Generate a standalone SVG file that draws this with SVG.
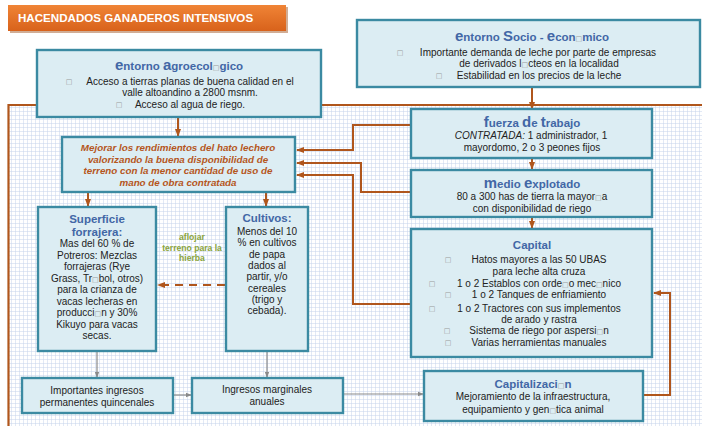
<svg xmlns="http://www.w3.org/2000/svg" width="702" height="426" viewBox="0 0 702 426">
  <defs>
    <pattern id="grid" width="4" height="4" patternUnits="userSpaceOnUse">
      <rect width="4" height="4" fill="#ffffff"/>
      <path d="M4 0 V4 M0 4 H4" stroke="#c6d4ec" stroke-width="1" fill="none"/>
    </pattern>
    <linearGradient id="hdr" x1="0" y1="0" x2="0" y2="1">
      <stop offset="0" stop-color="#f08436"/>
      <stop offset="1" stop-color="#d8621b"/>
    </linearGradient>
    <marker id="ab" viewBox="0 0 8 8" refX="7" refY="4" markerWidth="8" markerHeight="8" markerUnits="userSpaceOnUse" orient="auto">
      <path d="M0 1 L8 4 L0 7 Z" fill="#b0561c"/>
    </marker>
    <marker id="ag" viewBox="0 0 8 8" refX="7" refY="4" markerWidth="6" markerHeight="6" markerUnits="userSpaceOnUse" orient="auto">
      <path d="M0 1 L8 4 L0 7 Z" fill="#8a8a8a"/>
    </marker>
    <style>
      .box { fill: #dcedf3; stroke: #3b8aa2; stroke-width: 2.4; }
      .t { font-family: "Liberation Sans", Arial, sans-serif; font-size: 10px; fill: #222; text-anchor: middle; }
      .b { font-family: "DejaVu Sans", sans-serif; font-size: 7px; fill: #9a9a9a; text-anchor: middle; }
      .m { font-family: "DejaVu Sans", sans-serif; font-size: 7px; fill: #9a9a9a; }
      .ttl { font-family: "Liberation Sans", Arial, sans-serif; font-weight: bold; font-size: 11.5px; fill: #4267a6; text-anchor: middle; }
      .big { font-size: 15px; }
      .goal { font-family: "Liberation Sans", Arial, sans-serif; font-weight: bold; font-style: italic; font-size: 9.8px; fill: #b5561c; text-anchor: middle; }
      .note { font-family: "Liberation Sans", Arial, sans-serif; font-weight: bold; font-size: 8.6px; fill: #8aa43c; text-anchor: middle; }
      .c { fill: none; stroke: #b0561c; stroke-width: 2; }
      .g { fill: none; stroke: #8a8a8a; stroke-width: 1.2; }
    </style>
  </defs>

  <rect width="702" height="426" fill="#ffffff"/>

  <!-- graph-paper field with its brown frame -->
  <rect x="9" y="106" width="693" height="320" fill="url(#grid)"/>
  <path d="M8.5 426 V105 H702" fill="none" stroke="#b0561c" stroke-width="2.2"/>

  <!-- banner -->
  <g id="header">
    <rect x="10" y="7" width="278" height="26" fill="#9a4a14" opacity="0.45"/>
    <rect x="8" y="5" width="278" height="26" fill="url(#hdr)"/>
    <text x="18" y="22" font-family="Liberation Sans, Arial, sans-serif" font-weight="bold" font-size="11.6" fill="#ffffff">HACENDADOS GANADEROS INTENSIVOS</text>
  </g>

  <g id="connectors">
    <line class="c" x1="532" y1="87" x2="532" y2="109" marker-end="url(#ab)"/>
    <line class="c" x1="178" y1="118" x2="178" y2="136" marker-end="url(#ab)"/>
    <line class="c" x1="532" y1="158" x2="532" y2="169" marker-end="url(#ab)"/>
    <line class="c" x1="532" y1="217" x2="532" y2="228" marker-end="url(#ab)"/>
    <path class="c" d="M411 125 H353 V150 H297" marker-end="url(#ab)"/>
    <path class="c" d="M411 192 H361 V163 H297" marker-end="url(#ab)"/>
    <path class="c" d="M411 304 H353 V175 H297" marker-end="url(#ab)"/>
    <line class="c" x1="88" y1="192" x2="88" y2="206" marker-end="url(#ab)"/>
    <line class="c" x1="266" y1="192" x2="266" y2="206" marker-end="url(#ab)"/>
    <line class="c" x1="225" y1="285" x2="158" y2="285" stroke-width="2.6" stroke-dasharray="8 6" marker-end="url(#ab)"/>
    <path class="c" d="M643 395 H670 V293 H654" marker-end="url(#ab)"/>
    <line class="g" x1="97" y1="352" x2="97" y2="377" marker-end="url(#ag)"/>
    <line class="g" x1="267" y1="352" x2="267" y2="377" marker-end="url(#ag)"/>
    <line class="g" x1="174" y1="395" x2="191" y2="395" marker-end="url(#ag)"/>
    <line class="g" x1="344" y1="394" x2="423" y2="394" marker-end="url(#ag)"/>
  </g>

  <g id="entorno-agroecologico">
    <rect class="box" x="37" y="50" width="284" height="67"/>
    <text class="ttl" x="179" y="70"><tspan class="big">e</tspan>ntorno <tspan class="big">a</tspan>groecol<tspan class="m">□</tspan>gico</text>
    <text class="b" x="69" y="84">□</text>
    <text class="t" x="190" y="85">Acceso a tierras planas de buena calidad en el</text>
    <text class="t" x="190" y="96">valle altoandino a 2800 msnm.</text>
    <text class="b" x="119" y="107">□</text>
    <text class="t" x="190" y="108">Acceso al agua de riego.</text>
  </g>

  <g id="entorno-socio-economico">
    <rect class="box" x="357" y="20" width="343" height="67"/>
    <text class="ttl" x="532" y="41"><tspan class="big">e</tspan>ntorno <tspan class="big">S</tspan>ocio - <tspan class="big">e</tspan>con<tspan class="m">□</tspan>mico</text>
    <text class="b" x="400" y="55">□</text>
    <text class="t" x="538" y="56">Importante demanda de leche por parte de empresas</text>
    <text class="t" x="539" y="67">de derivados l<tspan class="m">□</tspan>cteos en la localidad</text>
    <text class="b" x="439" y="78">□</text>
    <text class="t" x="539" y="79">Estabilidad en los precios de la leche</text>
  </g>

  <g id="fuerza-de-trabajo">
    <rect class="box" x="411" y="109" width="241" height="49"/>
    <text class="ttl" x="532" y="127"><tspan class="big">f</tspan>uerza <tspan class="big">d</tspan>e <tspan class="big">t</tspan>rabajo</text>
    <text class="t" x="531" y="139"><tspan font-style="italic">CONTRATADA:</tspan> 1 administrador, 1</text>
    <text class="t" x="532" y="151">mayordomo, 2 o 3 peones fijos</text>
  </g>

  <g id="medio-explotado">
    <rect class="box" x="411" y="170" width="241" height="47"/>
    <text class="ttl" x="532" y="188"><tspan class="big">m</tspan>edio <tspan class="big">e</tspan>xplotado</text>
    <text class="t" x="532" y="200">80 a 300 has de tierra la mayor<tspan class="m">□</tspan>a</text>
    <text class="t" x="532" y="212">con disponibilidad de riego</text>
  </g>

  <g id="capital">
    <rect class="box" x="411" y="229" width="241" height="128"/>
    <text class="ttl" x="532" y="249" font-size="12">Capital</text>
    <text class="b" x="448" y="262">□</text>
    <text class="t" x="539" y="263">Hatos mayores a las 50 UBAS</text>
    <text class="t" x="539" y="275">para leche alta cruza</text>
    <text class="b" x="432" y="286">□</text>
    <text class="t" x="539" y="287">1 o 2 Establos con orde<tspan class="m">□</tspan>o mec<tspan class="m">□</tspan>nico</text>
    <text class="b" x="448" y="297">□</text>
    <text class="t" x="539" y="298">1 o 2 Tanques de enfriamiento</text>
    <text class="b" x="432" y="311">□</text>
    <text class="t" x="539" y="312">1 o 2 Tractores con sus implementos</text>
    <text class="t" x="539" y="323">de arado y rastra</text>
    <text class="b" x="447" y="333">□</text>
    <text class="t" x="539" y="334">Sistema de riego por aspersi<tspan class="m">□</tspan>n</text>
    <text class="b" x="448" y="345">□</text>
    <text class="t" x="539" y="346">Varias herramientas manuales</text>
  </g>

  <g id="objetivo">
    <rect class="box" x="62" y="137" width="233" height="55"/>
    <text class="goal" x="178" y="151">Mejorar los rendimientos del hato lechero</text>
    <text class="goal" x="178" y="163">valorizando la buena disponibilidad de</text>
    <text class="goal" x="178" y="174">terreno con la menor cantidad de uso de</text>
    <text class="goal" x="178" y="185.5">mano de obra contratada</text>
  </g>

  <g id="superficie-forrajera">
    <rect class="box" x="38" y="207" width="118" height="144"/>
    <text class="ttl" x="97" y="223">Superficie</text>
    <text class="ttl" x="97" y="236">forrajera:</text>
    <text class="t" x="97" y="247" font-size="10.3">Mas del 60 % de</text>
    <text class="t" x="97" y="258.5" font-size="10.3">Potreros: Mezclas</text>
    <text class="t" x="97" y="270" font-size="10.3">forrajeras (Rye</text>
    <text class="t" x="97" y="281.5" font-size="10.3">Grass, Tr<tspan class="m">□</tspan>bol, otros)</text>
    <text class="t" x="97" y="293" font-size="10.3">para la crianza de</text>
    <text class="t" x="97" y="304.5" font-size="10.3">vacas lecheras en</text>
    <text class="t" x="97" y="316" font-size="10.3">producci<tspan class="m">□</tspan>n y 30%</text>
    <text class="t" x="97" y="327.5" font-size="10.3">Kikuyo para vacas</text>
    <text class="t" x="97" y="339" font-size="10.3">secas.</text>
  </g>

  <g id="cultivos">
    <rect class="box" x="226" y="207" width="82" height="144"/>
    <text class="ttl" x="267" y="222">Cultivos:</text>
    <text class="t" x="267" y="235" font-size="10.3">Menos del 10</text>
    <text class="t" x="267" y="246" font-size="10.3">% en cultivos</text>
    <text class="t" x="267" y="257.5" font-size="10.3">de papa</text>
    <text class="t" x="267" y="269" font-size="10.3">dados al</text>
    <text class="t" x="267" y="280" font-size="10.3">partir, y/o</text>
    <text class="t" x="267" y="291.5" font-size="10.3">cereales</text>
    <text class="t" x="267" y="303" font-size="10.3">(trigo y</text>
    <text class="t" x="267" y="314" font-size="10.3">cebada).</text>
  </g>

  <g id="nota-aflojar">
    <text class="note" x="192" y="240">aflojar</text>
    <text class="note" x="192" y="250.5">terreno para la</text>
    <text class="note" x="192" y="261">hierba</text>
  </g>

  <g id="ingresos-permanentes">
    <rect class="box" x="22" y="378" width="151" height="35"/>
    <text class="t" x="97" y="394">Importantes  ingresos</text>
    <text class="t" x="97" y="405.5">permanentes quincenales</text>
  </g>

  <g id="ingresos-marginales">
    <rect class="box" x="192" y="378" width="151" height="35"/>
    <text class="t" x="267" y="393">Ingresos marginales</text>
    <text class="t" x="267" y="405">anuales</text>
  </g>

  <g id="capitalizacion">
    <rect class="box" x="424" y="371" width="219" height="50"/>
    <text class="ttl" x="533" y="388" font-size="11">Capitalizaci<tspan class="m">□</tspan>n</text>
    <text class="t" x="533" y="400">Mejoramiento de la infraestructura,</text>
    <text class="t" x="533" y="413">equipamiento  y gen<tspan class="m">□</tspan>tica animal</text>
  </g>
</svg>
